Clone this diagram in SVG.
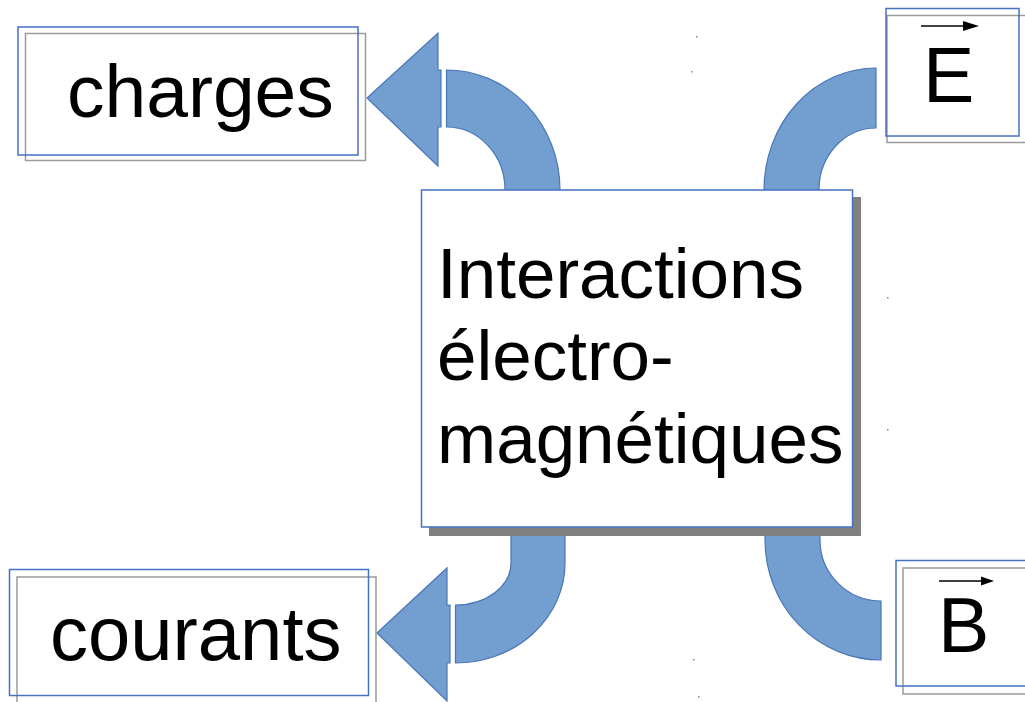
<svg xmlns="http://www.w3.org/2000/svg" width="1025" height="702" viewBox="0 0 1025 702">
  <style>
    .arrow { fill: #729fcf; stroke: #4a76b8; stroke-width: 1.2; }
    .frame { fill: none; stroke: #4472c4; stroke-width: 1.5; }
    .frame2 { fill: none; stroke: #9a9a9a; stroke-width: 1.5; }
    .lbl { font-family: "Liberation Sans", Arial, sans-serif; fill: #000; }
    .vec { stroke: #000; stroke-width: 1.5; }
    .speck { fill: #888; }
  </style>
  <rect width="1025" height="702" fill="#fff"/>

  <!-- curved arrows linking the central block to the four quantities -->
  <g id="connectors">
    <!-- to charges -->
    <path class="arrow" d="M446.5,70 A113.5,120 0 0 1 560,190 L560,198 L505,198 L505,190 A58.5,63 0 0 0 446.5,127 Z"/>
    <polygon class="arrow" points="367,98 438,33 438,70 441,70 441,127 438,127 438,166"/>
    <!-- from E -->
    <path class="arrow" d="M876,68 A112,122 0 0 0 764,190 L764,198 L819,198 L819,190 A57,62 0 0 1 876,128 Z"/>
    <!-- to courants -->
    <path class="arrow" d="M565,525 L565,563 A109.5,100 0 0 1 455.5,663 L455.5,605 A55.5,42 0 0 0 511,563 L511,525 Z"/>
    <polygon class="arrow" points="377,633 447,568 447,605 450,605 450,663 447,663 447,701"/>
    <!-- from B -->
    <path class="arrow" d="M765,525 L765,540 A116,120 0 0 0 881,660 L881,601 A61,61 0 0 1 820,540 L820,525 Z"/>
  </g>

  <!-- central block -->
  <g id="interactions">
    <rect x="429" y="197" width="432" height="339" fill="#808080"/>
    <rect x="421.5" y="190" width="431" height="337" fill="#fff" stroke="#4472c4" stroke-width="1.5"/>
    <text class="lbl" font-size="71" x="437" y="298">Interactions</text>
    <text class="lbl" font-size="71" x="437" y="380">électro-</text>
    <text class="lbl" font-size="71" x="437" y="463">magnétiques</text>
  </g>

  <g id="charges">
    <rect class="frame2" x="25.5" y="33.5" width="340" height="127"/>
    <rect class="frame" x="18" y="27" width="340" height="128"/>
    <text class="lbl" font-size="75" x="67" y="117">charges</text>
  </g>

  <g id="courants">
    <rect class="frame2" x="17" y="577" width="359" height="130"/>
    <rect class="frame" x="9.5" y="569.5" width="359" height="126"/>
    <text class="lbl" font-size="76" x="50" y="660">courants</text>
  </g>

  <g id="champ-E">
    <rect class="frame2" x="887" y="15.5" width="150" height="127"/>
    <rect class="frame" x="886" y="8.5" width="133" height="127.5"/>
    <line class="vec" x1="921" y1="26" x2="966" y2="26"/>
    <polygon points="963,21 979,26 963,31" fill="#000"/>
    <text class="lbl" font-size="77" x="923" y="102">E</text>
  </g>

  <g id="champ-B">
    <rect class="frame2" x="903" y="568" width="140" height="126"/>
    <rect class="frame" x="896" y="560.5" width="140" height="125.5"/>
    <line class="vec" x1="939" y1="581" x2="984" y2="581"/>
    <polygon points="981,576.5 994,581 981,585.5" fill="#000"/>
    <text class="lbl" font-size="77" x="938" y="652">B</text>
  </g>

  <!-- small stray dots -->
  <rect class="speck" x="696" y="36" width="1.5" height="1.5"/>
  <rect class="speck" x="691" y="71" width="1.5" height="1.5"/>
  <rect class="speck" x="887" y="297" width="1.5" height="1.5"/>
  <rect class="speck" x="887" y="429" width="1.5" height="1.5"/>
  <rect class="speck" x="693" y="659" width="1.5" height="1.5"/>
  <rect class="speck" x="698" y="696" width="1.5" height="1.5"/>
</svg>
